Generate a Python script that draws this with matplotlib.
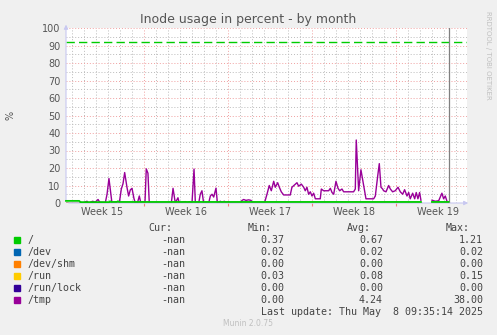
import numpy as np
import matplotlib.pyplot as plt
from matplotlib.patches import Rectangle

# time axis in days since start of week 15
tmp_days = [1.69, 1.89, 2.25, 2.39, 2.72, 2.94, 3.17, 3.31, 3.78, 3.92, 4.08, 4.22, 4.33,
            4.75, 4.94, 5.11, 5.25, 5.39, 5.58, 5.72, 5.86, 6.00, 6.17, 6.28, 6.47, 6.61,
            6.72, 6.92, 7.08, 7.19, 7.33, 7.44, 9.28, 9.42, 9.61, 9.83, 9.94, 10.44, 10.61,
            10.78, 11.00, 11.17, 11.28, 11.56, 11.69, 11.83, 11.97, 12.39, 12.53, 12.67,
            12.81, 13.00, 13.12, 13.36, 13.50, 13.69, 13.83, 14.06, 14.19, 15.03, 15.17,
            15.31, 15.50, 15.72, 15.92, 16.06, 16.97, 17.06, 17.25, 17.44, 17.61, 17.81,
            17.94, 18.14, 18.28, 18.44, 18.64, 19.19, 19.33, 19.56, 19.75, 19.89, 20.11,
            20.31, 20.44, 20.58, 20.72, 20.86, 21.00, 21.14, 21.28, 21.69, 21.78, 21.97,
            22.39, 22.53, 22.67, 22.81, 23.00, 23.17, 23.31, 23.50, 23.64, 24.47, 24.61,
            24.69, 24.89, 25.08, 25.31, 25.50, 26.14, 26.28, 26.47, 26.61, 26.75, 26.89,
            26.97, 27.17, 27.39, 27.53, 27.72, 27.94, 28.17, 28.36, 28.56, 28.72, 28.92,
            29.06, 29.19, 29.39, 29.56, 29.69, 29.83, 29.97, 30.08, 30.5, 31.00, 31.28,
            31.56, 31.83, 31.97, 32.11, 32.25, 32.39]
tmp_vals = [0.5, 0, 1, 0, 1, 0.5, 2, 0.5, 0.3, 5, 14, 6, 0,
            0.8, 0, 8, 11, 17.4, 9, 4, 7.5, 8.4, 2.4, 0, 0.5, 4,
            0.5, 0.8, 0, 19.5, 17, 0, 0, 8.4, 0, 3, 0, 0.8, 0,
            0.8, 0, 19.4, 0, 0, 5, 7, 0, 0, 4, 5,
            3.4, 8.5, 0, 1, 0.3, 1, 0.3, 0.8, 0, 0, 1.5,
            2, 1.5, 1.8, 1.5, 0, 0, 0.5, 5, 10, 7, 12.4,
            9, 11.6, 9, 6.4, 4.6, 4.6, 9, 10.4, 11.6, 9.6, 10.8,
            9, 7, 9, 5, 6.4, 4, 5.6, 2.4, 2.4, 8, 7,
            7, 8.4, 6, 5, 12.4, 8.4, 7, 8, 6.4, 6.4, 8,
            36, 7, 19, 10, 2.4, 2.4, 4, 15, 22.5, 9, 8,
            7, 6.4, 10, 8, 6.4, 7, 9, 6.4, 5, 7.6, 4,
            6, 2.4, 5.6, 2.4, 6, 2.4, 6, 1.6, np.nan, 1.6, 1,
            1.3, 5.6, 2.4, 4, 1, 0.5]

root_days = [0.5, 1.6, 1.7, 4.1, 4.17, 4.25, 4.75, 4.83, 4.92, 30.08, 30.5, 31.0, 32.39]
root_vals = [1.21, 1.21, 0.5, 0.5, 1.0, 0.6, 0.6, 1.0, 0.6, 0.6, np.nan, 0.6, 0.6]

flat_days = [0.5, 30.08, 30.5, 31.0, 32.39]
dev_vals = [0.02, 0.02, np.nan, 0.02, 0.02]
shm_vals = [0.0, 0.0, np.nan, 0.0, 0.0]
run_vals = [0.08, 0.08, np.nan, 0.08, 0.08]
lock_vals = [0.0, 0.0, np.nan, 0.0, 0.0]

now_day = 32.42
warning = 92
week_labels = ['Week 15', 'Week 16', 'Week 17', 'Week 18', 'Week 19']
week_starts = [0, 7, 14, 21, 28]

names = ['/', '/dev', '/dev/shm', '/run', '/run/lock', '/tmp']
colors = ['#00cc00', '#0066b3', '#ff8000', '#ffcc00', '#330099', '#990099']
cur = ['-nan'] * 6
mins = ['0.37', '0.02', '0.00', '0.03', '0.00', '0.00']
avgs = ['0.67', '0.02', '0.00', '0.08', '0.00', '4.24']
maxs = ['1.21', '0.02', '0.00', '0.15', '0.00', '38.00']

W, H = 497, 335
fig = plt.figure(figsize=(W / 100, H / 100), dpi=100, facecolor='#f0f0f0')
ax = fig.add_axes([66 / W, 1 - 203 / H, 401 / W, 175 / H])
ax.set_facecolor('white')
ax.set_xlim(0.5, 33.92)
ax.set_ylim(0, 100)

# grid
ax.set_yticks(np.arange(0, 101, 10))
ax.set_yticks(np.arange(0, 101, 5), minor=True)
ax.set_xticks([7, 14, 21, 28])
ax.set_xticks(np.arange(1, 34), minor=True)
ax.set_xticklabels([])
ax.grid(which='minor', color='#bbbbbb', linestyle=(0, (1, 2)), linewidth=0.7)
ax.grid(which='major', color='#f0a0a0', linestyle=(0, (1, 2)), linewidth=0.7)
ax.tick_params(axis='y', which='both', length=0, pad=4, labelsize=7, labelcolor='#555555')
ax.tick_params(axis='x', which='major', length=2, color='#f08080', direction='out')
ax.tick_params(axis='x', which='minor', length=0)
for s in ax.spines.values():
    s.set_visible(False)
ax.set_axisbelow(True)

for i, d in enumerate(week_starts):
    ax.text(d + 3.5, -0.05, week_labels[i], transform=ax.get_xaxis_transform(),
            ha='center', va='center', fontsize=7, color='#555555')

# axis arrows
ax.annotate('', xy=(0, 1.035), xytext=(0, 0), xycoords='axes fraction',
            arrowprops=dict(arrowstyle='-|>', color='#c8c8f0', lw=0.8, mutation_scale=6),
            annotation_clip=False)
ax.annotate('', xy=(1.01, 0), xytext=(0, 0), xycoords='axes fraction',
            arrowprops=dict(arrowstyle='-|>', color='#c8c8f0', lw=0.8, mutation_scale=6),
            annotation_clip=False)

ax.axhline(warning, color='#00cc00', linestyle=(0, (6, 3)), linewidth=1)

ax.plot(flat_days, dev_vals, color=colors[1], lw=1)
ax.plot(flat_days, shm_vals, color=colors[2], lw=1)
ax.plot(flat_days, run_vals, color=colors[3], lw=1)
ax.plot(flat_days, lock_vals, color=colors[4], lw=1)
ax.plot(tmp_days, tmp_vals, color=colors[5], lw=1)
ax.plot(root_days, root_vals, color=colors[0], lw=1.3, clip_on=False, zorder=3)
ax.axvline(now_day, color='#808080', lw=0.9)

# texts
fig.text(248 / W, 1 - 19 / H, 'Inode usage in percent - by month', ha='center', va='center',
         fontsize=9, color='#555555')
fig.text(11 / W, 1 - 115 / H, '%', rotation=90, ha='center', va='center', fontsize=7,
         color='#555555')
fig.text(488 / W, 1 - 55 / H, 'RRDTOOL / TOBI OETIKER', rotation=270, ha='center', va='center',
         fontsize=5, color='#c0c0c0')

mono = dict(family='DejaVu Sans Mono', fontsize=7.2, color='#444444', va='center')


def ftext(x, y, s, ha='left', **kw):
    fig.text(x / W, 1 - y / H, s, ha=ha, **kw)


ftext(172, 228, 'Cur:', ha='right', **mono)
ftext(272, 228, 'Min:', ha='right', **mono)
ftext(371, 228, 'Avg:', ha='right', **mono)
ftext(470, 228, 'Max:', ha='right', **mono)
for i in range(len(names)):
    y = 240 + 12 * i
    fig.patches.append(Rectangle((14 / W, 1 - (y + 3) / H), 6 / W, 6 / H,
                                 transform=fig.transFigure, color=colors[i]))
    ftext(27, y, names[i], **mono)
    ftext(185, y, cur[i], ha='right', **mono)
    ftext(284, y, mins[i], ha='right', **mono)
    ftext(383, y, avgs[i], ha='right', **mono)
    ftext(483, y, maxs[i], ha='right', **mono)
ftext(483, 312, 'Last update: Thu May  8 09:35:14 2025', ha='right', **mono)
ftext(248, 324, 'Munin 2.0.75', ha='center', va='center', fontsize=5.5, color='#c0c0c0')

fig.savefig('out.png', dpi=100, facecolor=fig.get_facecolor())
